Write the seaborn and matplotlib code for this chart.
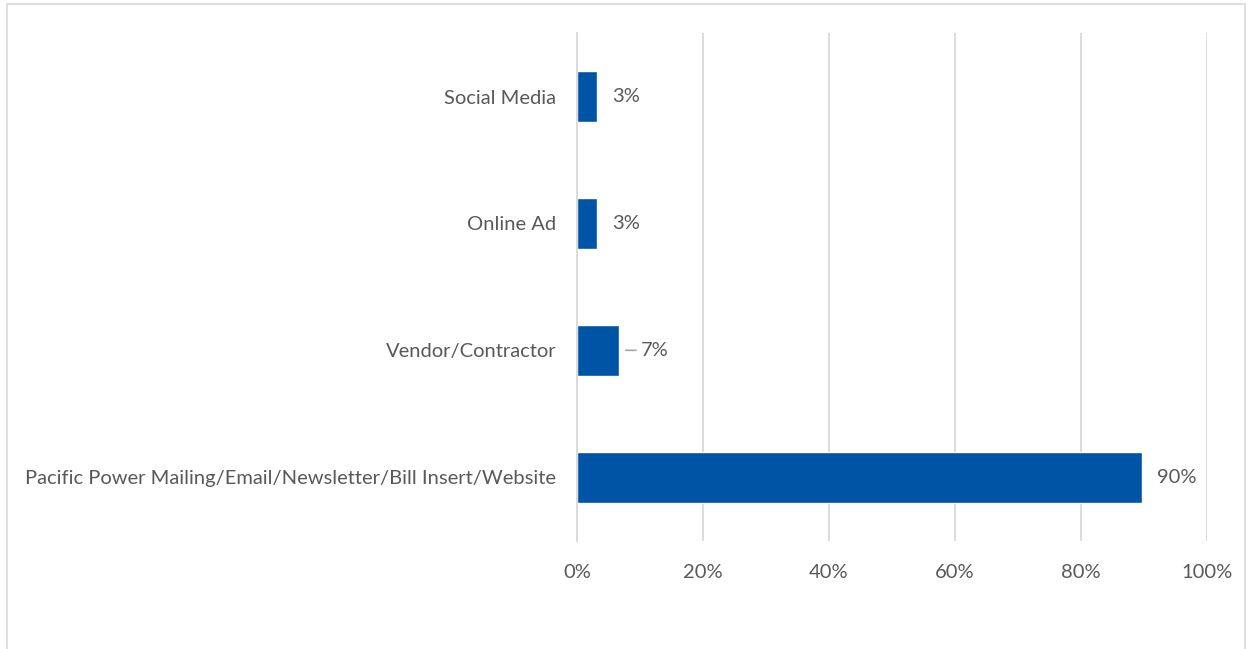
import matplotlib
matplotlib.use("Agg")
import matplotlib.pyplot as plt
import seaborn as sns
import pandas as pd
import numpy as np
from matplotlib.patches import Rectangle
from matplotlib.ticker import FixedLocator, PercentFormatter

# Survey: how participants heard about the program
channels = [
    "Social Media",
    "Online Ad",
    "Vendor/Contractor",
    "Pacific Power Mailing/Email/Newsletter/Bill Insert/Website",
]
shares = [0.032, 0.032, 0.066, 0.898]
x_ticks = [0.0, 0.2, 0.4, 0.6, 0.8, 1.0]

bar_color = "#0054A6"
text_color = "#595959"
grid_color = "#D9D9D9"

sns.set_theme(style="white")
plt.rcParams["font.family"] = ["Lato", "DejaVu Sans"]
FS = 14.5

df = pd.DataFrame({"channel": channels, "share": shares})

fig = plt.figure(figsize=(12.49, 6.49), dpi=100)
ax = fig.add_axes([0.462, 0.167, 0.504, 0.782])

sns.barplot(data=df, x="share", y="channel", orient="h", color=bar_color,
            width=0.4, saturation=1, ax=ax, order=channels)

ax.set_xlim(0, 1.0)
ax.set_ylim(len(channels) - 0.5, -0.5)
ax.set_xlabel("")
ax.set_ylabel("")

# Vertical gridlines
ax.xaxis.set_major_locator(FixedLocator(x_ticks))
ax.xaxis.set_major_formatter(PercentFormatter(1.0, decimals=0))
ax.grid(axis="x", color=grid_color, linewidth=1.3)
ax.set_axisbelow(True)

for side in ["top", "right", "bottom"]:
    ax.spines[side].set_visible(False)
ax.spines["left"].set_color(grid_color)
ax.spines["left"].set_linewidth(1.3)

ax.tick_params(axis="x", length=0, pad=17, labelsize=FS, labelcolor=text_color)
ax.tick_params(axis="y", which="major", length=0, pad=15, labelsize=FS,
               labelcolor=text_color)
ax.yaxis.set_minor_locator(FixedLocator(np.arange(-0.5, len(channels), 1.0)))
ax.tick_params(axis="y", which="minor", length=5, width=1.3, color=grid_color,
               direction="out")

# Data labels
for i, v in enumerate(shares):
    label = f"{v:.0%}"
    if channels[i] == "Vendor/Contractor":
        ax.annotate(label, xy=(v, i), xytext=(v + 0.035, i),
                    va="center", ha="left", fontsize=FS, color=text_color,
                    arrowprops=dict(arrowstyle="-", color="#A6A6A6", lw=1.2,
                                    shrinkA=1, shrinkB=5))
    else:
        ax.text(v + 0.023, i, label, va="center", ha="left",
                fontsize=FS, color=text_color)

# Chart frame
fig.patches.append(Rectangle((0.006, -0.01), 0.991, 1.004, transform=fig.transFigure,
                             fill=False, edgecolor="#D9D9D9", linewidth=1.2))

fig.savefig("out.png", dpi=100, facecolor="white")
